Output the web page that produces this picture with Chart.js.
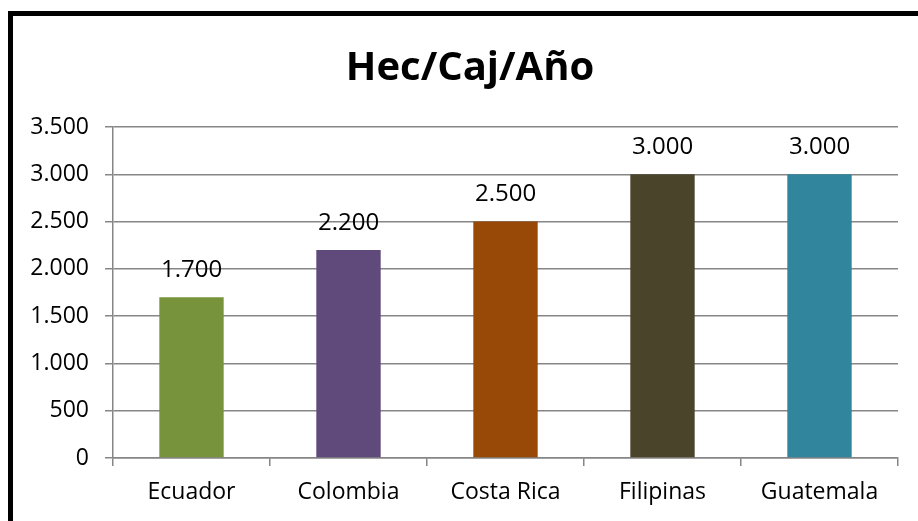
<!DOCTYPE html>
<html>
<head>
<meta charset="utf-8">
<script src="https://cdn.jsdelivr.net/npm/chart.js@4/dist/chart.umd.min.js"></script>
<style>
    html, body { margin: 0; padding: 0; background: #fff; }
    #wrap { position: relative; width: 918px; height: 521px; overflow: hidden; }
    #frame {
        position: absolute; left: 8px; top: 11px; width: 940px; height: 540px;
        border-left: 5px solid #000; border-top: 5px solid #000;
        pointer-events: none;
    }
</style>
</head>
<body>
<div id="wrap">
    <canvas id="hecChart" width="918" height="521"></canvas>
    <div id="frame"></div>
</div>
<script>
const paises = ['Ecuador', 'Colombia', 'Costa Rica', 'Filipinas', 'Guatemala'];
const hectareas = [1700, 2200, 2500, 3000, 3000];
const colores = ['#77933C', '#604A7B', '#984807', '#4A452A', '#31859C'];

// 1700 -> "1.700"
function miles(v) {
    return String(v).replace(/\B(?=(\d{3})+(?!\d))/g, '.');
}

// value labels above the bars
const etiquetas = {
    id: 'etiquetas',
    afterLayout(chart) {
        // title sits centred over the whole frame, not just the plot
        if (chart.titleBlock) chart.titleBlock.left = 42;
    },
    afterDatasetsDraw(chart) {
        const ctx = chart.ctx;
        const meta = chart.getDatasetMeta(0);
        ctx.save();
        ctx.font = "24px 'Open Sans'";
        ctx.fillStyle = '#000';
        ctx.textAlign = 'center';
        ctx.textBaseline = 'middle';
        meta.data.forEach(function (bar, i) {
            ctx.fillText(miles(hectareas[i]), bar.x, bar.y - 27);
        });
        ctx.restore();
    }
};

Chart.defaults.font.family = "'Open Sans'";
Chart.defaults.color = '#000';

const ctx = document.getElementById('hecChart').getContext('2d');
const hecChart = new Chart(ctx, {
    type: 'bar',
    data: {
        labels: paises,
        datasets: [{
            data: hectareas,
            backgroundColor: colores,
            barPercentage: 0.41,
            categoryPercentage: 1
        }]
    },
    options: {
        responsive: false,
        animation: false,
        layout: { padding: { left: 0, right: 20, top: 0, bottom: 0 } },
        plugins: {
            legend: { display: false },
            tooltip: { enabled: false },
            title: {
                display: true,
                text: 'Hec/Caj/Año',
                color: '#000',
                font: { size: 40, weight: 'bold' },
                padding: { top: 45, bottom: 34 }
            }
        },
        scales: {
            x: {
                grid: {
                    drawOnChartArea: false,
                    color: '#868686',
                    tickLength: 8,
                    lineWidth: 1.5
                },
                border: { color: '#868686', width: 1.5 },
                ticks: { font: { size: 23 }, padding: 13, maxRotation: 0 },
                afterFit(scale) { scale.height = 63; }
            },
            y: {
                min: 0,
                max: 3500,
                grid: { color: '#868686', tickLength: 8, lineWidth: 1.5 },
                border: { color: '#868686', width: 1.5 },
                ticks: {
                    stepSize: 500,
                    font: { size: 23 },
                    padding: 16,
                    callback: function (v) { return miles(v); }
                },
                afterFit(scale) { scale.width = 113; }
            }
        }
    },
    plugins: [etiquetas]
});
</script>
</body>
</html>
